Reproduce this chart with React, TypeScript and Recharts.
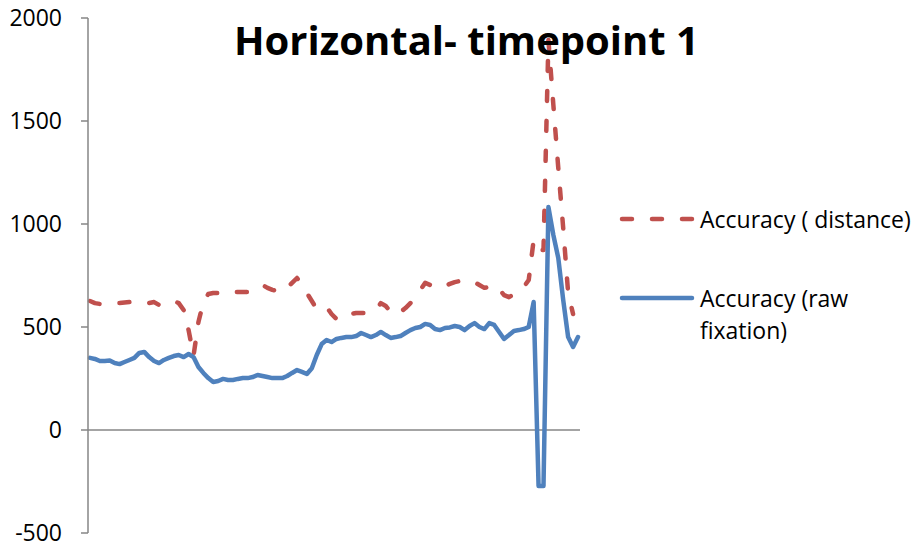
import React from 'react';
import { LineChart, Line, XAxis, YAxis, ReferenceLine } from 'recharts';

const TITLE = 'Horizontal- timepoint 1';

const Y_TICKS = [-500, 0, 500, 1000, 1500, 2000];

// Accuracy (raw fixation), one value per sample
const rawFixation = [
  350, 345, 335, 335, 337, 325, 320, 330, 340, 350,
  374, 379, 354, 335, 325, 340, 350, 359, 364, 354,
  369, 354, 306, 277, 252, 233, 238, 248, 243, 243,
  248, 252, 252, 257, 267, 262, 257, 252, 252, 252,
  262, 277, 291, 282, 272, 300, 364, 417, 437, 427,
  442, 447, 451, 451, 456, 471, 461, 451, 461, 476,
  461, 447, 451, 456, 471, 485, 495, 500, 515, 510,
  490, 485, 495, 498, 505, 500, 485, 505, 519, 500,
  490, 519, 510, 476, 442, 461, 481, 485, 490, 500,
  621, -272, -272, 1082, 947, 835, 631, 451, 403, 451,
];

// Accuracy ( distance), one value per sample
const distance: (number | null)[] = [
  626, 616, 612, 616, 616, 616, 616, 619, 621, 621,
  621, 616, 616, 621, 607, 616, 626, 626, 616, 582,
  485, 360, 524, 621, 660, 665, 665, 670, 665, 670,
  670, 670, 670, 680, 690, 704, 690, 680, 675, 670,
  690, 714, 738, 704, 665, 626, 587, 592, 597, 563,
  539, 553, 568, 563, 568, 568, 568, 573, 582, 616,
  602, 573, 558, 573, 592, 616, 646, 680, 714, 704,
  694, 690, 699, 709, 718, 723, 728, 723, 718, 704,
  690, 694, 704, 684, 655, 645, 660, 684, 694, 728,
  922, 874, 874, 1893, 1578, 1272, 980, 665, 563, null,
];

const RED = '#C0504D';
const BLUE = '#4F81BD';
const AXIS = '#868686';
const FONT = '"Open Sans", sans-serif';
const DASH = '10 20';

const data = rawFixation.map((v, i) => ({
  sample: i + 1,
  distance: distance[i],
  rawFixation: v,
}));

const LegendBox = () => (
  <div
    style={{
      position: 'absolute',
      left: 616,
      top: 203,
      width: 303,
      fontFamily: FONT,
      fontSize: 23,
      color: '#000',
      lineHeight: '32px',
    }}
  >
    <div style={{ display: 'flex', alignItems: 'flex-start' }}>
      <svg width={84} height={32} style={{ flexShrink: 0 }}>
        <line x1={6} y1={16} x2={76} y2={16} stroke={RED} strokeWidth={4.5}
          strokeDasharray={DASH} strokeLinecap="round" />
      </svg>
      <span style={{ width: 219, whiteSpace: 'nowrap' }}>Accuracy ( distance)</span>
    </div>
    <div style={{ display: 'flex', alignItems: 'flex-start', marginTop: 47 }}>
      <svg width={84} height={32} style={{ flexShrink: 0 }}>
        <line x1={6} y1={16} x2={76} y2={16} stroke={BLUE} strokeWidth={4.5} strokeLinecap="round" />
      </svg>
      <span style={{ width: 205 }}>Accuracy (raw fixation)</span>
    </div>
  </div>
);

export default function App() {
  return (
    <div style={{ position: 'relative', width: 919, height: 550, background: '#fff' }}>
      <style>{'body{margin:0}'}</style>
      <LineChart
        width={919}
        height={550}
        data={data}
        margin={{ top: 18, right: 339, bottom: 17, left: 0 }}
      >
        <XAxis dataKey="sample" hide padding={{ left: 2, right: 2 }} />
        <YAxis
          width={88}
          domain={[-500, 2000]}
          ticks={Y_TICKS}
          interval={0}
          allowDataOverflow
          axisLine={{ stroke: AXIS, strokeWidth: 1.5 }}
          tickLine={{ stroke: AXIS, strokeWidth: 1.5 }}
          tickSize={7}
          tickMargin={19}
          tick={{ fill: '#000', fontSize: 23, fontFamily: FONT }}
        />
        <ReferenceLine y={0} stroke={AXIS} strokeWidth={1.5} />
        <Line
          type="linear"
          dataKey="distance"
          name="Accuracy ( distance)"
          stroke={RED}
          strokeWidth={4.5}
          strokeDasharray={DASH}
          strokeLinecap="round"
          strokeLinejoin="round"
          dot={false}
          activeDot={false}
          isAnimationActive={false}
        />
        <Line
          type="linear"
          dataKey="rawFixation"
          name="Accuracy (raw fixation)"
          stroke={BLUE}
          strokeWidth={4.5}
          strokeLinecap="round"
          strokeLinejoin="round"
          dot={false}
          activeDot={false}
          isAnimationActive={false}
        />
      </LineChart>
      <LegendBox />
      <div
        style={{
          position: 'absolute',
          left: 0,
          top: 13,
          width: 933,
          textAlign: 'center',
          fontFamily: FONT,
          fontWeight: 700,
          fontSize: 40,
          lineHeight: '54px',
          color: '#000',
          pointerEvents: 'none',
        }}
      >
        {TITLE}
      </div>
    </div>
  );
}
